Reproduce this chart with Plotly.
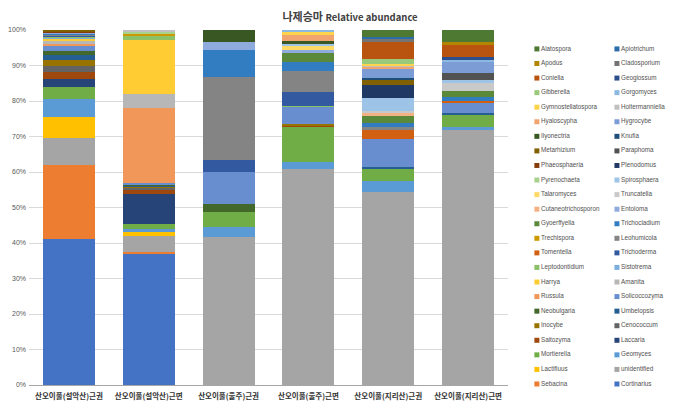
import colorsys
import plotly.graph_objects as go

# =========================
# DADES
# =========================
samples = ["산오이풀(설악산)근권", "산오이풀(설악산)근면", "산오이풀(울주)근권",
           "산오이풀(울주)근면", "산오이풀(지리산)근권", "산오이풀(지리산)근면"]

# stacking order, bottom -> top
genera = ["Cortinarius", "Sebacina", "unidentified", "Lactifluus", "Geomyces", "Mortierella", "Laccaria", "Saitozyma",
          "Cenococcum", "Inocybe", "Umbelopsis", "Neobulgaria", "Solicoccozyma", "Russula", "Amanita", "Harrya",
          "Sistotrema", "Leptodontidium", "Trichoderma", "Tomentella", "Leohumicola", "Trechispora", "Trichocladium", "Gyoerffyella",
          "Entoloma", "Cutaneotrichosporon", "Truncatella", "Talaromyces", "Spirosphaera", "Pyrenochaeta", "Plenodomus", "Phaeosphaeria",
          "Paraphoma", "Metarhizium", "Knufia", "Ilyonectria", "Hygrocybe", "Hyaloscypha", "Holtermanniella", "Gymnostellatospora",
          "Gorgomyces", "Gibberella", "Geoglossum", "Coniella", "Cladosporium", "Apodus", "Apiotrichum", "Alatospora"]

seorak_root = [41.1, 20.9, 7.7, 5.8, 5.2, 3.2, 2.3, 2.1,
               1.6, 1.7, 1.3, 1.2, 1.3, 0.7, 0.8, 0.6,
               0.4, 0.4, 0.1, 0.1, 0.1, 0.1, 0.3, 0.1,
               0.1, 0, 0.2, 0, 0, 0, 0, 0.1,
               0.2, 0.3, 0, 0, 0, 0, 0, 0,
               0, 0, 0, 0, 0, 0, 0, 0]
seorak_surface = [37.1, 0.4, 4.5, 1.2, 0.7, 1.4, 8.4, 1.4,
                  0.4, 0.3, 0.5, 0.3, 0.3, 21.0, 4.2, 15.0,
                  0, 1.1, 0, 0, 0, 0.7, 0, 0,
                  0, 0, 0, 0, 0, 0.7, 0, 0,
                  0, 0, 0, 0, 0, 0, 0.4, 0,
                  0, 0, 0, 0, 0, 0, 0, 0]
ulju_root = [0, 0, 41.7, 0, 2.8, 4.2, 0, 0,
             0, 0, 0, 2.3, 9.1, 0, 0, 0,
             0, 0, 3.3, 0, 23.5, 0, 7.5, 0,
             2.1, 0, 0, 0, 0, 0, 0, 0,
             0, 0, 0, 3.5, 0, 0, 0, 0,
             0, 0, 0, 0, 0, 0, 0, 0]
ulju_surface = [0, 0, 60.8, 0, 2.1, 9.9, 0, 0.3,
                0, 0.3, 0, 0, 5.0, 0, 0, 0,
                0, 0.3, 3.9, 0, 5.9, 0, 2.6, 2.4,
                0.9, 0, 0, 1.0, 0.6, 0, 0, 0,
                0, 0, 0, 1.0, 0, 1.7, 0, 0.7,
                0.6, 0, 0, 0, 0, 0, 0, 0]
jiri_root = [0, 0, 54.5, 0, 3.0, 3.5, 0, 0,
             0, 0, 0.5, 0, 7.7, 0, 0, 0,
             0, 0, 0, 2.5, 1.0, 0, 1.2, 2.0,
             0, 0.9, 0.4, 0, 3.7, 0, 3.5, 0,
             0, 1.5, 0.7, 0, 2.4, 0.6, 0.3, 0.4,
             0, 1.4, 0, 5.0, 0.9, 0, 0.3, 2.1]
jiri_surface = [0, 0, 71.8, 0, 1.0, 3.3, 0, 0,
                0, 0, 0.4, 0, 2.8, 0, 0, 0,
                0, 0, 0, 0.7, 0, 0, 1.2, 1.7,
                0, 0, 2.3, 0, 0.7, 0, 0, 0,
                2.1, 0, 0, 0, 3.1, 0, 0, 0,
                0.4, 0, 1.0, 3.3, 0, 0.7, 0, 3.5]

columns = [seorak_root, seorak_surface, ulju_root, ulju_surface, jiri_root, jiri_surface]

# =========================
# COLORS (Office palette with tints/shades)
# =========================
ACCENTS = ["#4472C4", "#ED7D31", "#A5A5A5", "#FFC000", "#5B9BD5", "#70AD47"]
VARIANTS = [(1.0, 0.0), (0.6, 0.0), (0.8, 0.2), (0.8, 0.0), (0.6, 0.4), (0.5, 0.0), (0.7, 0.3), (0.7, 0.0)]


def office_color(n):
    base = ACCENTS[n % 6]
    mod, off = VARIANTS[n // 6]
    r, g, b = (int(base[i:i + 2], 16) / 255 for i in (1, 3, 5))
    h, l, s = colorsys.rgb_to_hls(r, g, b)
    r, g, b = colorsys.hls_to_rgb(h, min(1.0, l * mod + off), s)
    return "#%02X%02X%02X" % (round(r * 255), round(g * 255), round(b * 255))


colors = [office_color(i) for i in range(len(genera))]

# =========================
# FIGURE
# =========================
fig = go.Figure()

for i, name in enumerate(genera):
    fig.add_trace(go.Bar(
        x=samples,
        y=[col[i] for col in columns],
        name=name,
        marker=dict(color=colors[i], line=dict(width=0)),
        showlegend=False,
    ))

# legend in two columns, drawn as a small scatter panel on the right
leg_x, leg_y, leg_text, leg_col = [], [], [], []
for j, k in enumerate(range(len(genera) - 1, -1, -1)):
    leg_x.append(4 + 80 * (j % 2))
    leg_y.append(j // 2)
    leg_text.append(genera[k])
    leg_col.append(colors[k])

fig.add_trace(go.Scatter(
    x=leg_x, y=leg_y, text=leg_text,
    mode="markers+text", textposition="middle right",
    marker=dict(symbol="square", size=5, color=leg_col),
    textfont=dict(size=6.3, color="#505050", family="Liberation Sans"),
    xaxis="x2", yaxis="y2", showlegend=False, hoverinfo="skip", cliponaxis=False,
))

# page body has an 8px margin, so the figure is 8px smaller than the window
fig.update_layout(
    width=672, height=401,
    barmode="stack", bargap=0.35,
    plot_bgcolor="white", paper_bgcolor="white",
    margin=dict(l=21, r=0, t=22, b=24, autoexpand=False),
    title=dict(
        text="나제승마 <span style='font-size:9.5px'>Relative abundance</span>",
        x=0.509, xref="container", xanchor="center",
        y=0.976, yref="container", yanchor="middle",
        font=dict(family="Noto Sans CJK KR", size=11, color="#404040", weight="bold"),
    ),
    xaxis=dict(
        domain=[0, 0.7358], automargin=False, tickangle=0, ticklabelstandoff=4,
        showline=True, linecolor="#A6A6A6", linewidth=1,
        ticks="", showgrid=False,
        tickfont=dict(family="Noto Sans CJK KR", size=7.5, color="#333333", weight="bold"),
    ),
    yaxis=dict(
        range=[0, 100], dtick=10, ticksuffix="%", automargin=False, ticklabelstandoff=2,
        showgrid=True, gridcolor="#D9D9D9", gridwidth=1,
        zeroline=False, showline=False,
        tickfont=dict(family="Liberation Sans", size=7, color="#595959"),
    ),
    xaxis2=dict(domain=[0.774, 1], range=[0, 147], visible=False, anchor="y2"),
    yaxis2=dict(domain=[0, 1], range=[23.07, -1.30], visible=False, anchor="x2"),
)

fig.write_html("out.html")
